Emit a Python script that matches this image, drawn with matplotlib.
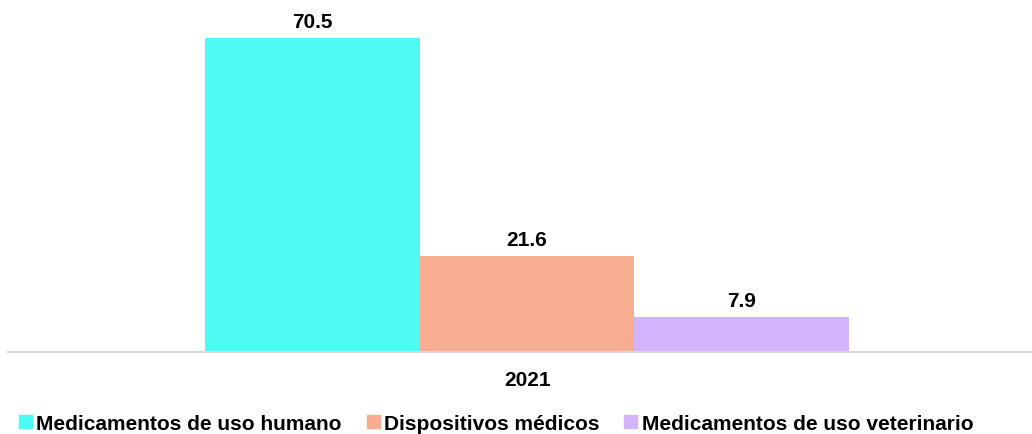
import matplotlib
matplotlib.use("Agg")
from matplotlib import pyplot as plt
from matplotlib.patches import Patch

plt.rcParams['font.family'] = ['Liberation Sans', 'DejaVu Sans']

categories = ['Medicamentos de uso humano', 'Dispositivos médicos', 'Medicamentos de uso veterinario']
values = [70.5, 21.6, 7.9]
year = '2021'
colors = ['#4dfbf3', '#f9ad90', '#d2b4fc']

fig = plt.figure(figsize=(10.32, 4.35), dpi=100)
ax = fig.add_axes([8 / 1032, 82 / 435, 1024 / 1032, 353 / 435])

xs = [-1, 0, 1]
bars = ax.bar(xs, values, width=1.0, color=colors)
for b, v in zip(bars, values):
    ax.text(b.get_x() + b.get_width() / 2, v + 1.6, '%.1f' % v,
            ha='center', va='bottom', fontsize=15, fontweight='bold')

ax.set_xlim(-2.418, 2.352)
ax.set_ylim(0, 79.25)
ax.set_yticks([])
ax.set_xticks([0])
ax.set_xticklabels([year], fontsize=15, fontweight='bold')
ax.tick_params(axis='x', length=0, pad=13)
for s in ['top', 'right', 'left']:
    ax.spines[s].set_visible(False)
ax.spines['bottom'].set_color('#d9d9d9')
ax.spines['bottom'].set_linewidth(1.5)

handles = [Patch(color=c, label=l) for c, l in zip(colors, categories)]
fig.legend(handles=handles, loc='lower left', bbox_to_anchor=(0.0, -0.04), ncol=3,
           frameon=False, prop={'size': 15, 'weight': 'bold'},
           handlelength=0.63, handleheight=0.63, handletextpad=0.2, columnspacing=1.2)

plt.savefig('out.png')
plt.close()
